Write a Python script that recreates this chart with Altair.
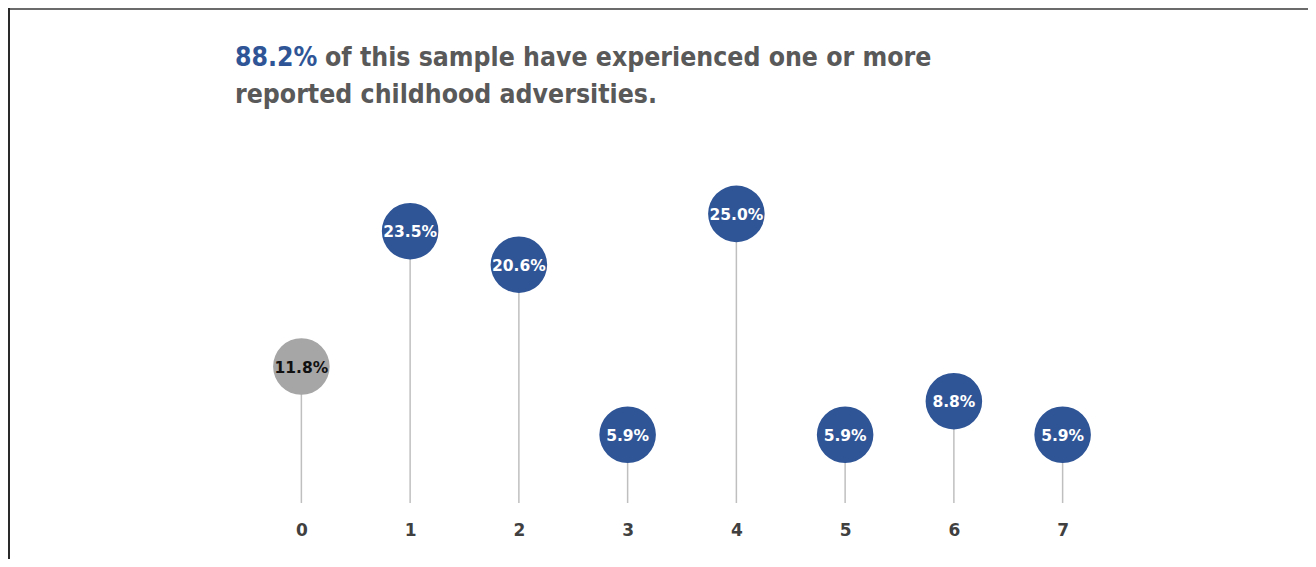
import altair as alt
import pandas as pd

categories = [0, 1, 2, 3, 4, 5, 6, 7]
values = [11.8, 23.5, 20.6, 5.9, 25.0, 5.9, 8.8, 5.9]
headline_value = "88.2%"
headline_rest = "of this sample have experienced one or more"
headline_line2 = "reported childhood adversities."

df = pd.DataFrame({"k": categories, "v": values})

BLUE = "#2F5597"
GREY_DOT = "#A6A6A6"
TITLE_GREY = "#595959"
TITLE_FONT = "DejaVu Sans Condensed"
TITLE_SIZE = 26.4

base = alt.Chart(df).transform_calculate(
    label="format(datum.v, '.1f') + '%'"
)

x = alt.X(
    "k:O",
    scale=alt.Scale(type="point", padding=0.5),
    axis=alt.Axis(
        title=None, labelAngle=0, domain=False, ticks=False,
        labelFont="DejaVu Sans", labelFontWeight="bold", labelFontSize=17,
        labelColor="#404040", labelPadding=19, grid=False,
    ),
)
y = alt.Y("v:Q", scale=alt.Scale(domain=[0, 30]), axis=None)

stems = base.mark_rule(color="#BFBFBF", strokeWidth=1.5).encode(
    x=x, y=y, y2=alt.datum(0)
)

dots = base.mark_circle(size=3200, opacity=1).encode(
    x=x, y=y,
    color=alt.condition(alt.datum.k == 0, alt.value(GREY_DOT), alt.value(BLUE)),
)

labels = base.mark_text(
    font="DejaVu Sans", fontWeight="bold", fontSize=15.5, baseline="middle", align="center", dy=1
).encode(
    x=x, y=y, text="label:N",
    color=alt.condition(alt.datum.k == 0, alt.value("#111111"), alt.value("white")),
)

one = pd.DataFrame({"a": [0]})
t1 = alt.Chart(one).mark_text(
    font=TITLE_FONT, fontWeight="bold", fontSize=TITLE_SIZE, align="left", baseline="alphabetic", color=BLUE
).encode(x=alt.value(-12), y=alt.value(-90), text=alt.datum(headline_value))
t2 = alt.Chart(one).mark_text(
    font=TITLE_FONT, fontWeight="bold", fontSize=TITLE_SIZE, align="left", baseline="alphabetic", color=TITLE_GREY
).encode(x=alt.value(78), y=alt.value(-90), text=alt.datum(headline_rest))
t3 = alt.Chart(one).mark_text(
    font=TITLE_FONT, fontWeight="bold", fontSize=TITLE_SIZE, align="left", baseline="alphabetic", color=TITLE_GREY
).encode(x=alt.value(-12), y=alt.value(-53), text=alt.datum(headline_line2))

border_top = alt.Chart(one).mark_rule(color="#6B6B6B", strokeWidth=2).encode(
    x=alt.value(-239), x2=alt.value(1061), y=alt.value(-147)
)
border_left = alt.Chart(one).mark_rule(color="#2A2A2A", strokeWidth=2).encode(
    x=alt.value(-238), y=alt.value(-148), y2=alt.value(403)
)

chart = alt.layer(
    border_top, border_left, stems, dots, labels, t1, t2, t3
).properties(
    width=870, height=347,
    autosize=alt.AutoSizeParams(type="none"),
    padding={"left": 239, "top": 148, "right": 191, "bottom": 56},
    background="white",
).configure_view(stroke=None)

chart.save("out.html", embed_options={"renderer": "svg", "actions": False})
